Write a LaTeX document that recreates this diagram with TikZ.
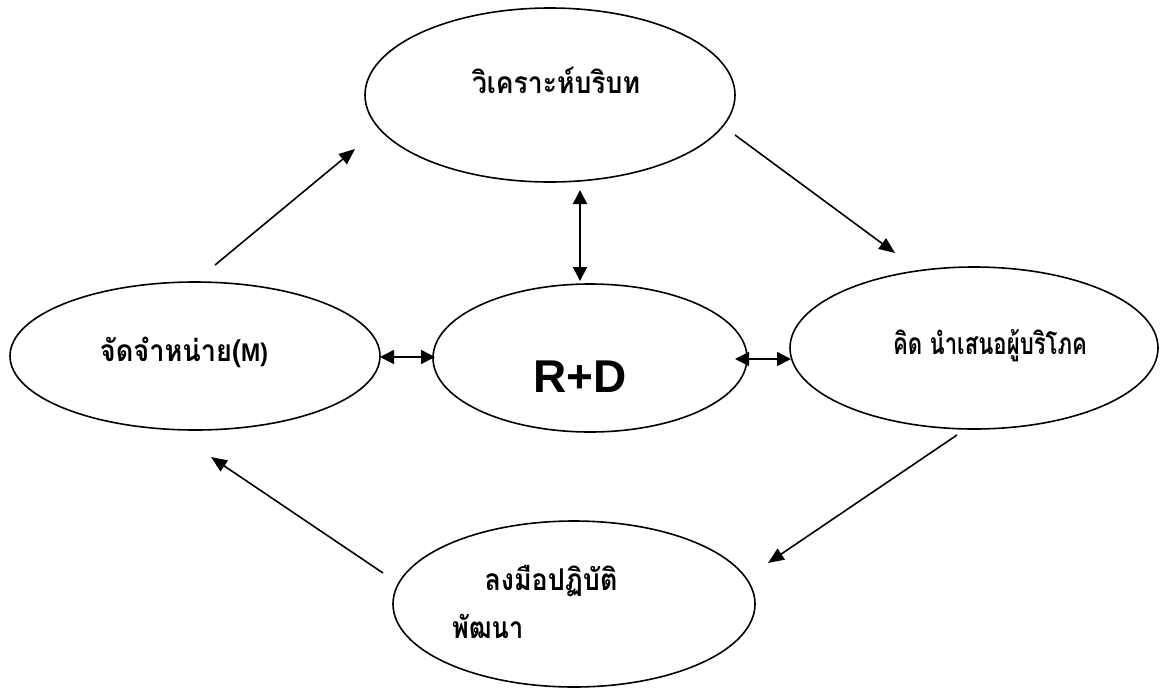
\documentclass[tikz,border=0pt]{standalone}
\usepackage{fontspec}
\usepackage{graphicx}
\setmainfont{Liberation Sans}
\newfontfamily\thaifont[Script=Thai]{Loma}
\usetikzlibrary{shapes.geometric,arrows.meta}
\newcommand{\fitw}[2]{\resizebox{#1}{\height}{#2}}
\tikzset{
  oval/.style={draw,ellipse,line width=1.6pt,inner sep=0pt},
  thai/.style={font=\thaifont\bfseries\fontsize{30}{34}\selectfont,inner sep=0pt},
  flow/.style={line width=1.6pt,-{Triangle[length=16pt,width=13pt]}},
  both/.style={line width=1.6pt,{Triangle[length=14pt,width=14pt]}-{Triangle[length=14pt,width=14pt]}}
}
\begin{document}
\begin{tikzpicture}[x=1pt,y=-1pt]
\useasboundingbox (0,0) rectangle (1170,689);
% ellipses
\node[oval,minimum width=370pt,minimum height=174pt] (top) at (550,95) {};
\node[oval,minimum width=314pt,minimum height=148pt] (rd) at (590,358) {};
\node[oval,minimum width=370pt,minimum height=148pt] (left) at (195,356) {};
\node[oval,minimum width=368pt,minimum height=162pt] (right) at (974,348) {};
\node[oval,minimum width=362pt,minimum height=166pt] (bot) at (574,604) {};
% texts
\node[thai] (ttop) at (556,80) {\fitw{168pt}{วิเคราะห์บริบท}};
\node[font=\bfseries\fontsize{46}{50}\selectfont,inner sep=0pt] (trd) at (580,377) {R+D};
\node[thai] (tleft) at (184,352) {\fitw{168pt}{จัดจำหน่าย(\fontspec{Liberation Sans}[Scale=0.85]\bfseries M)}};
\node[thai] (tright) at (990,346) {\fitw{194pt}{คิด นำเสนอผู้บริโภค}};
\node[thai] (tbot1) at (551,581) {\fitw{133pt}{ลงมือปฏิบัติ}};
\node[thai,anchor=west] (tbot2) at (452,626) {\fitw{71pt}{พัฒนา}};
% free ends of connectors
\coordinate (a1s) at (215,265); \coordinate (a1e) at (355,149);
\coordinate (a2s) at (735,135); \coordinate (a2e) at (895,253);
\coordinate (a3s) at (957,435); \coordinate (a3e) at (768,563);
\coordinate (a4s) at (383,573); \coordinate (a4e) at (211,457);
\coordinate (v1) at (580,190); \coordinate (v2) at (580,281);
\coordinate (h1) at (380,357); \coordinate (h2) at (435,357);
\coordinate (h3) at (735,359); \coordinate (h4) at (791,359);
% connectors
\draw[flow] (a1s) -- (a1e);
\draw[flow] (a2s) -- (a2e);
\draw[flow] (a3s) -- (a3e);
\draw[flow] (a4s) -- (a4e);
\draw[both] (v1) -- (v2);
\draw[both] (h1) -- (h2);
\draw[both] (h3) -- (h4);
\end{tikzpicture}
\end{document}
